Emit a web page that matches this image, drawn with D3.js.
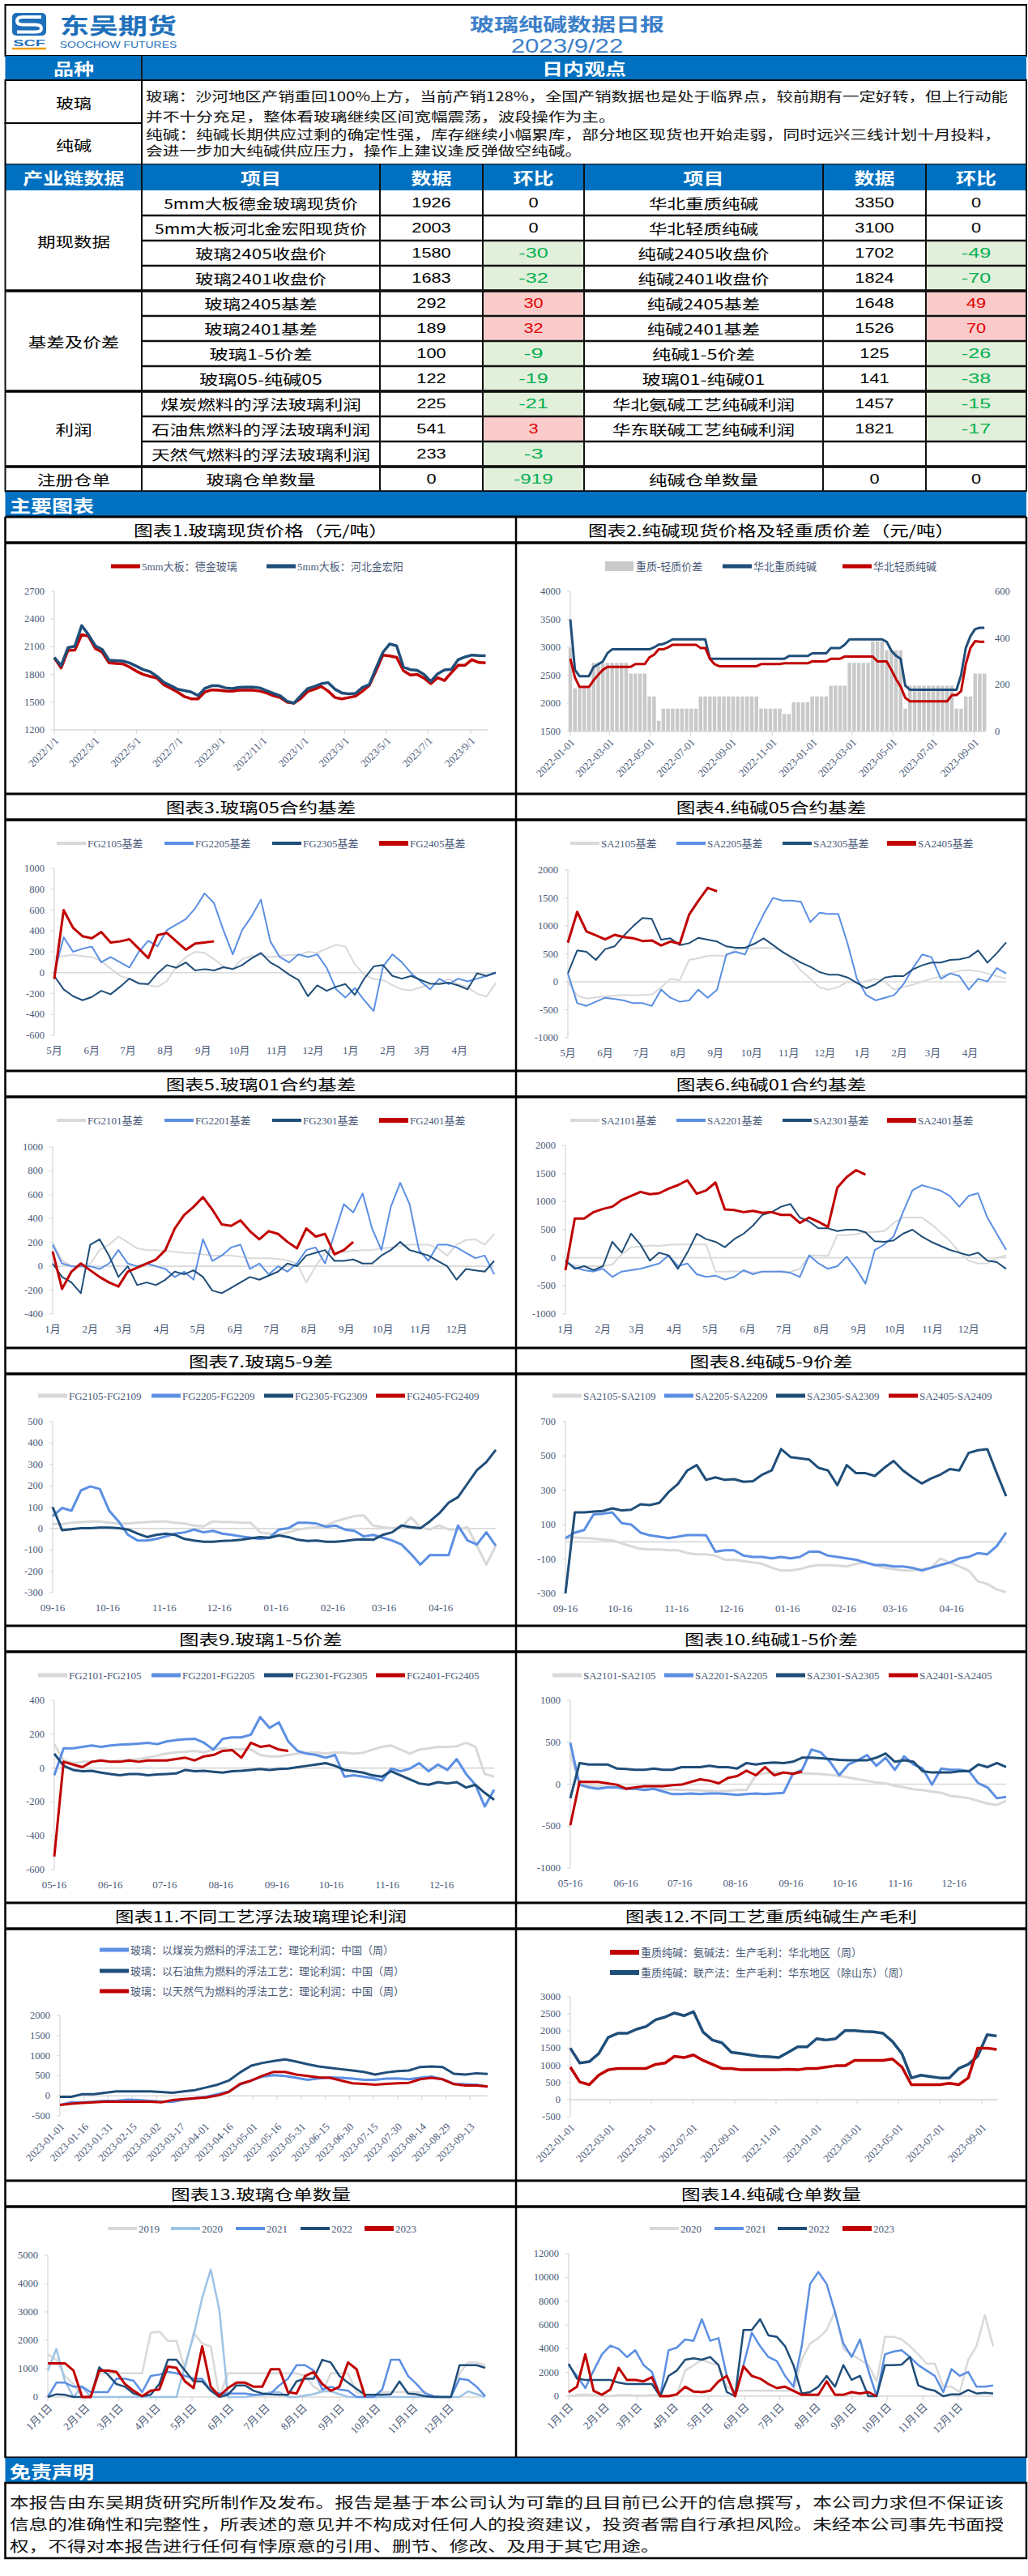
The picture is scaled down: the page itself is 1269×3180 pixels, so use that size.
<!DOCTYPE html>
<html><head><meta charset="utf-8">
<script src="https://cdn.jsdelivr.net/npm/d3@7"></script>
<style>body{margin:0;background:#fff}</style>
</head><body>
<svg id="page" width="1269" height="3180"></svg>
<script>
// ---------- table data ----------
const tblGroups = [["期现数据", 4], ["基差及价差", 4], ["利润", 3], ["注册仓单", 1]];
const tblHeader = ["产业链数据", "项目", "数据", "环比", "项目", "数据", "环比"];
const leftItems = ["5mm大板德金玻璃现货价", "5mm大板河北金宏阳现货价", "玻璃2405收盘价", "玻璃2401收盘价", "玻璃2405基差", "玻璃2401基差", "玻璃1-5价差", "玻璃05-纯碱05", "煤炭燃料的浮法玻璃利润", "石油焦燃料的浮法玻璃利润", "天然气燃料的浮法玻璃利润", "玻璃仓单数量"];
const leftVals = [1926, 2003, 1580, 1683, 292, 189, 100, 122, 225, 541, 233, 0];
const leftChg = [0, 0, -30, -32, 30, 32, -9, -19, -21, 3, -3, -919];
const rightItems = ["华北重质纯碱", "华北轻质纯碱", "纯碱2405收盘价", "纯碱2401收盘价", "纯碱2405基差", "纯碱2401基差", "纯碱1-5价差", "玻璃01-纯碱01", "华北氨碱工艺纯碱利润", "华东联碱工艺纯碱利润", "", "纯碱仓单数量"];
const rightVals = [3350, 3100, 1702, 1824, 1648, 1526, 125, 141, 1457, 1821, null, 0];
const rightChg = [0, 0, -49, -70, 49, 70, -26, -38, -15, -17, null, 0];

// ---------- chart data ----------
const c1Dejin = [1980,1870,2060,2063,2230,2215,2080,2042,1925,1920, 1915,1880,1835,1800,1779,1760,1690,1650,1610,1560, 1536,1536,1610,1633,1630,1622,1618,1630,1630,1630, 1620,1600,1570,1550,1500,1490,1540,1615,1640,1670, 1620,1550,1535,1550,1565,1618,1680,1840,2010,2000, 1985,1840,1794,1800,1760,1700,1764,1735,1820,1900, 1900,1960,1930,1926];
const c1Jinhong = [1984,1896,2090,2105,2330,2230,2110,2071,1954,1950, 1946,1925,1890,1852,1830,1780,1715,1680,1640,1625, 1610,1570,1650,1677,1677,1655,1647,1660,1662,1662, 1655,1625,1595,1570,1510,1490,1570,1645,1670,1700, 1712,1640,1600,1590,1595,1660,1690,1870,2040,2130, 2110,1880,1852,1845,1800,1725,1808,1850,1855,1960, 1990,2010,2005,2003];

const c2Heavy = [3500,2600,2486,2486,2486,2650,2700,2750,2900,2966, 2966,2966,2966,2966,2966,2966,2966,2966,3000,3050, 3062,3100,3144,3144,3144,3144,3144,3144,3144,3144, 2798,2798,2798,2798,2798,2798,2798,2798,2798,2798, 2798,2798,2798,2798,2798,2798,2798,2846,2846,2846, 2846,2846,2894,2894,2894,2894,2990,2990,2990,3050, 3144,3144,3144,3144,3144,3144,3144,3144,3100,2942, 2850,2798,2317,2245,2245,2245,2245,2245,2245,2245, 2245,2245,2245,2245,2510,2990,3200,3327,3350,3350];
const c2Light = [2798,2462,2293,2293,2293,2413,2510,2600,2654,2654, 2654,2654,2654,2654,2702,2702,2702,2822,2870,2966, 2966,3000,3048,3048,3048,3048,3048,3048,2990,2990, 2798,2700,2664,2664,2664,2664,2664,2664,2664,2664, 2664,2702,2702,2702,2702,2702,2716,2716,2716,2716, 2716,2716,2750,2750,2750,2750,2798,2798,2798,2837, 2837,2837,2837,2837,2837,2837,2750,2750,2750,2600, 2437,2300,2100,2038,2038,2038,2038,2038,2038,2038, 2038,2038,2149,2149,2221,2702,2990,3110,3100,3100];
const c2Spread = [358,185,185,185,185,294,294,294,294,294, 294,294,294,248,248,248,248,150,150,46, 98,98,98,98,98,98,98,98,150,150, 150,150,150,150,150,150,150,150,150,150, 150,98,98,98,98,98,75,75,125,125, 125,125,150,150,150,150,196,196,196,196, 294,294,294,294,294,386,386,386,348,348, 348,348,98,196,196,196,196,196,196,196, 196,196,196,98,98,150,150,248,248,248];

const c3FG2105 = [150,160,170,160,150,110,40,-30,-60,-90, -120,-135,-80,60,150,200,190,130,60,40, 130,160,170,150,160,170,170,200,190,230, 267,250,80,-20,-60,-70,-120,-160,-170,-140, -110,-100,-60,-110,-140,-200,-230,-100];
const c3FG2205 = [-5,340,200,230,250,100,150,100,50,200, 306,254,409,461,513,617,760,668,409,176, 409,539,700,300,150,98,176,150,176,47, -160,-238,-148,-264,-368,60,176,100,-5,-83, -160,-57,-109,-57,-83,-57,-31,-5];
const c3FG2305 = [-31,-160,-225,-264,-233,-174,-207,-135,-57,-104, -109,-5,73,47,98,21,34,21,52,34, 73,137,189,98,47,-18,-70,-225,-122,-174, -135,-109,-212,-57,60,73,-31,-57,-31,-70, -104,-109,-96,-122,-160,-5,-31,3];
const c3FG2405 = [-60,600,430,350,330,390,290,300,320,230, 140,360,380,300,220,280,290,300];

const c4SA2105 = [0,-250,-300,-280,-260,-250,-237,-240,-235,-230, -100,50,30,391,420,464,470,464,585,590, 600,609,600,560,400,200,53,-100,-140,-92, 0,-20,10,53,0,-140,-92,-50,5,53, 100,150,198,210,190,150,101,53];
const c4SA2205 = [150,-382,-430,-357,-285,-309,-333,-382,-382,-430, -140,-285,-357,-333,-140,-285,-140,488,536,488, 874,1212,1502,1454,1454,1430,1068,1237,1212,1212, 681,53,-237,-333,-285,-237,-43,246,488,440, 53,150,101,-140,53,5,246,150];
const c4SA2305 = [150,560,536,391,585,633,826,995,1140,1126, 754,778,657,690,787,754,720,633,609,609, 681,778,657,536,440,343,271,174,126,126, 77,-19,-116,-43,77,101,101,222,295,343, 343,391,401,440,560,343,512,705];
const c4SA2405 = [700,1250,900,830,760,840,800,780,730,740, 650,720,680,1200,1450,1680,1620];

const c5FG2101 = [204,50,0,0,20,136,181,249,200,150, 136,136,130,120,113,110,100,90,90,90, 80,68,68,68,60,50,23,-136,0,113, 113,120,130,136,136,150,158,170,181,181, 181,150,90,181,220,226,181,271];
const c5FG2201 = [181,23,0,0,0,-23,23,136,23,0, 23,0,-23,-90,-45,-113,226,45,90,158, 181,-23,23,-68,0,-45,23,136,158,23, 271,520,452,611,317,136,498,700,520,136, 45,181,181,158,113,68,90,-68];
const c5FG2301 = [23,-90,-136,-226,181,226,90,-90,0,-158, -136,-158,-113,-45,-68,-34,-90,-204,-226,-181, -136,-90,-113,-79,-45,23,0,90,113,136, 45,45,57,23,23,90,136,204,136,113, 90,45,0,-113,-23,-34,-45,45];
const c5FG2401 = [124,-190,-45,23,-34,-90,-136,-170,-45,-11, 23,57,136,317,430,498,580,475,351,339, 385,294,226,294,271,204,150,317,249,271, 100,136,204];

const c6SA2101 = [-101,-140,-149,-149,-149,-120,60,188,200,220, 210,230,236,236,236,236,-245,-245,-240,-245, -260,-250,-245,-240,-250,-200,43,43,30,404, 404,420,452,460,476,620,716,716,716,600, 452,300,100,-50,-101,-100,-5,43];
const c6SA2201 = [-53,-173,-221,-245,-197,-341,-245,-221,-197,-149, -101,43,-149,-101,-293,-341,-317,-389,-341,-221, -293,-245,-245,-245,-269,-341,43,-101,-197,-149, 19,-197,-461,139,236,380,812,1197,1293,1245, 1197,1101,909,1101,1149,716,428,139];
const c6SA2301 = [-53,-197,-149,-221,-149,284,91,428,236,-53, 91,43,-197,91,428,332,284,188,332,428, 572,764,812,909,957,716,644,524,524,476, 500,500,452,293,284,308,428,500,380,284, 212,139,91,43,91,-53,-77,-197];
const c6SA2401 = [-220,700,700,812,870,909,1029,1101,1173,1130, 1149,1230,1293,1380,1140,1197,1340,861,850,812, 836,800,812,764,764,620,716,640,548,1250, 1438,1560,1480];

const c7FG2105 = [20,20,27,30,33,33,27,23,23,27, 30,33,33,27,23,14,10,33,30,30, 27,27,-18,-24,-30,-18,-5,1,6,14, 33,46,58,61,14,6,1,6,52,6, -5,14,-5,-5,6,-81,-169,-81];
const c7FG2205 = [58,96,83,178,197,185,83,33,-30,-56, -56,-49,-37,-24,-18,-5,-18,-11,-24,-30, -37,-43,-49,-43,-5,1,27,27,23,8, 14,-5,-11,-37,-30,-43,-56,-75,-119,-169, -125,-125,-125,14,-56,-75,-18,-81];
const c7FG2305 = [100,-8,-3,1,1,4,4,1,-5,-24, -40,-30,-24,-30,-49,-56,-62,-62,-58,-56, -53,-46,-40,-43,-33,-40,-53,-58,-56,-62, -62,-58,-53,-51,-53,-30,-18,14,6,1, 33,71,121,147,210,273,311,368];
const c7FG2405 = [];

const c8SA2105 = [19,25,22,19,14,9,-9,-25,-41,-44, -44,-49,-49,-65,-72,-72,-80,-104,-104,-112, -120,-128,-151,-167,-167,-159,-143,-135,-135,-139, -143,-128,-120,-135,-151,-159,-167,-167,-159,-151, -96,-120,-143,-167,-230,-246,-277,-293];
const c8SA2205 = [22,54,69,160,164,172,109,101,54,38, 30,22,30,40,40,38,-57,-49,-49,-80, -88,-88,-96,-88,-96,-88,-57,-57,-80,-88, -96,-104,-120,-135,-135,-143,-143,-151,-167,-151, -135,-120,-96,-88,-65,-72,-25,54];
const c8SA2305 = [-300,172,172,176,180,195,183,187,219,214, 227,290,337,416,447,361,376,361,365,350, 353,392,416,540,494,487,479,431,416,330, 447,400,400,384,431,471,416,376,340,369, 392,424,416,518,534,540,400,266];
const c8SA2405 = [];

const c9FG2101 = [141,45,29,37,37,45,37,45,48,53, 61,74,85,93,96,101,93,109,117,109, 112,109,77,69,69,77,85,90,93,85, 93,90,85,90,109,125,133,109,85,109, 117,125,125,128,149,125,-35,-51];
const c9FG2201 = [-43,117,117,125,133,125,133,138,141,144, 149,141,157,165,170,173,149,109,173,181, 181,197,301,237,270,157,101,85,77,61, 77,-51,-43,-51,-59,-75,-3,-19,-3,29, -19,21,-11,53,-35,-99,-227,-128];
const c9FG2301 = [85,13,-11,-19,-16,-27,-35,-43,-35,-35, -43,-38,-35,-32,-11,-19,-16,-22,-27,-19, -16,-11,-6,-11,-6,-3,5,13,21,29, 13,-11,-19,-27,-43,-51,-19,-43,-67,-91, -99,-83,-91,-83,-115,-99,-147,-187];
const c9FG2401 = [-523,37,21,5,37,45,37,37,45,37, 45,45,45,53,61,45,69,77,101,106, 61,149,125,133,109,101];

const c10SA2101 = [365,0,-20,-30,-30,-35,-40,-45,-50,-55, -60,-65,-70,-71,-75,-80,-85,-80,-70,-71, 106,130,139,140,135,130,125,120,110,100, 80,58,40,20,10,-20,-39,-60,-71,-90, -103,-140,-152,-168,-200,-232,-248,-200];
const c10SA2201 = [494,-6,-39,-55,-39,-39,-55,-55,-71,-55, -87,-119,-119,-110,-119,-110,-110,-119,-129,-119, -110,-119,-110,-103,123,171,413,381,268,106, 235,284,348,219,316,171,332,235,187,-6, 187,171,171,155,10,-39,-168,-152];
const c10SA2301 = [-168,252,235,235,235,187,181,171,171,187, 171,171,203,203,203,219,203,203,187,252, 235,252,258,252,268,316,316,310,300,290, 284,284,284,316,365,268,284,268,155,139, 139,139,155,155,235,203,252,203];
const c10SA2401 = [-490,30,26,26,10,-6,-55,-39,-23,-23, -23,-13,-6,26,58,42,10,74,97,161, 106,203,106,139,123,150];

const c11Coal = [-230,-162,-162,-149,-128,-128,-95,-108,-128,-149, -149,-95,-61,-27,41,108,277,378,480,514, 493,446,399,432,459,446,426,399,399,426, 432,412,446,480,412,297,284,277,225];
const c11Coke = [-27,-27,41,41,74,108,108,108,108,95, 74,108,142,209,277,378,581,750,818,865, 905,851,784,730,696,662,628,595,527,581, 615,628,716,730,716,547,527,561,541];
const c11Gas = [-230,-196,-176,-162,-149,-149,-149,-149,-149,-162, -108,-81,-61,-41,7,95,297,378,500,595, 595,527,493,459,446,378,311,297,277,297, 311,324,412,446,412,291,257,257,233];

const c12East = [1500,1066,1106,1343,1817,1935,1935,2054,2133,2330, 2409,2528,2449,2567,1975,1738,1659,1382,1343,1303, 1264,1248,1224,1382,1540,1540,1777,1738,1777,2014, 2014,1991,1975,1935,1698,1343,632,711,671,632, 632,908,1027,1264,1896,1856];
const c12North = [948,513,434,711,869,908,908,908,908,1027, 1066,1264,1224,1303,1145,1027,908,908,869,869, 869,869,869,885,869,908,908,948,987,987, 1145,1145,1145,1145,1185,948,434,434,434,434, 474,434,632,1501,1501,1461];

const c13Y2019 = [1502,1312,741,456,0,0,836,836,836,836, 836,836,2262,2310,1977,1977,979,2262,1882,1787, 0,836,836,836,836,836,836,836,836,836, 741,361,171,836,836,836,171,76,76,171, 171,171,171,171,171,0,0,0,836,1217, 1217,1122];
const c13Y2020 = [931,1692,551,0,361,0,0,0,0,0, 0,0,0,0,0,0,1122,2167,3498,4496, 3070,0,0,0,50,100,171,171,0,0, 50,100,200,200,100,0,0,0,0,0, 0,0,0,0,0,0,0,0,0,200, 100,0];
const c13Y2021 = [0,504,504,361,361,171,171,171,646,646, 570,171,741,789,884,836,741,646,646,219, 124,124,124,124,76,76,124,409,646,1122, 1122,931,266,361,266,219,0,0,0,266, 1312,1312,741,456,124,29,0,0,646,599, 361,29];
const c13Y2022 = [0,95,76,0,0,0,1046,789,456,361, 124,29,76,456,1312,1312,931,551,551,219, 0,76,409,409,219,124,95,76,76,551, 646,646,1312,1217,741,504,285,76,76,76, 95,551,124,95,29,0,0,0,1122,1122, 1122,1027];
const c13Y2023 = [1188,1188,1188,931,0,0,931,931,884,456, 219,29,219,266,1074,1027,551,314,1787,361, 29,314,504,504,361,361,979,979,171,124, 741,884,456,219,361,1217,979,0];

const c14Y2020 = [0,100,150,100,50,0,100,100,50,50, 100,50,50,150,2159,2600,3068,2800,2614,795, 455,455,455,455,455,455,455,455,3068,4432, 4886,5568,7159,3977,3523,3068,2614,1250,5000,5000, 4773,4205,3523,2727,2727,795,795,341,3068,4205, 6818,4205];
const c14Y2021 = [2614,1705,682,2159,3523,4250,3977,3295,3864,2614, 2045,0,3864,4091,4773,4659,6477,4659,4886,1705, 0,2614,5341,4205,3295,2955,1705,795,4205,9432, 10455,9432,7045,4432,3295,4773,2159,0,3523,3750, 3864,3295,2614,2159,1705,341,2273,1705,2045,795, 795,909];
const c14Y2022 = [2727,1477,1364,1364,1364,1364,1136,1023,1023,1023, 1023,0,1705,2159,3068,3182,3068,3295,2614,341, 0,5568,5568,6477,5114,5000,4205,2614,227,341, 795,1705,795,2614,1364,1705,0,0,2614,2614, 2659,3295,909,614,455,0,159,159,523,227, 295,227];
const c14Y2023 = [341,795,3523,455,114,568,2386,1364,1364,1250, 1591,0,0,159,795,386,341,455,1250,1705, 0,2500,1705,1477,1023,682,795,455,114,114, 114,1250,114,114,341,227,341,0];

// tick values
const c1Ticks = [1200, 1500, 1800, 2100, 2400, 2700];
const c2Ticks = [1500, 2000, 2500, 3000, 3500, 4000];
const c2Ticks2 = [0, 200, 400, 600];
const c3Ticks = [-600, -400, -200, 0, 200, 400, 600, 800, 1000];
const c4Ticks = [-1000, -500, 0, 500, 1000, 1500, 2000];
const c5Ticks = [-400, -200, 0, 200, 400, 600, 800, 1000];
const c6Ticks = [-1000, -500, 0, 500, 1000, 1500, 2000];
const c7Ticks = [-300, -200, -100, 0, 100, 200, 300, 400, 500];
const c8Ticks = [-300, -100, 100, 300, 500, 700];
const c9Ticks = [-600, -400, -200, 0, 200, 400];
const c10Ticks = [-1000, -500, 0, 500, 1000];
const c11Ticks = [-500, 0, 500, 1000, 1500, 2000];
const c12Ticks = [-500, 0, 500, 1000, 1500, 2000, 2500, 3000];
const c13Ticks = [0, 1000, 2000, 3000, 4000, 5000];
const c14Ticks = [0, 2000, 4000, 6000, 8000, 10000, 12000];

const chartTitles = ["图表1.玻璃现货价格（元/吨）", "图表2.纯碱现货价格及轻重质价差（元/吨）", "图表3.玻璃05合约基差", "图表4.纯碱05合约基差", "图表5.玻璃01合约基差", "图表6.纯碱01合约基差", "图表7.玻璃5-9差", "图表8.纯碱5-9价差", "图表9.玻璃1-5价差", "图表10.纯碱1-5价差", "图表11.不同工艺浮法玻璃理论利润", "图表12.不同工艺重质纯碱生产毛利", "图表13.玻璃仓单数量", "图表14.纯碱仓单数量"];

// ---------- drawing ----------
const svg = d3.select("#page");
const BLUE = "#0070C0", RED = "#C00000", DARK = "#1F4E79", LIGHT = "#5B8FE3", GREY = "#D9D9D9", PALE = "#9DC3E6";
const AX = "#4A5A78", AXL = "#D9D9D9";
const CJK = "'Noto Sans CJK SC', 'Noto Sans', sans-serif";
const SERIF = "'Liberation Serif', 'Noto Sans CJK SC', serif";
const SANS = "'Liberation Sans', 'Noto Sans CJK SC', sans-serif";

function units(s) { let n = 0; for (const ch of s) n += ch.charCodeAt(0) > 255 ? 1 : 0.55; return n; }
function txt(g, x, y, s, o = {}) {
  const t = g.append("text").attr("x", x).attr("y", y).text(s)
    .attr("font-size", o.size || 17).attr("fill", o.fill || "#000")
    .attr("font-family", o.font || CJK).attr("text-anchor", o.anchor || "middle")
    .attr("dominant-baseline", "central");
  if (o.bold) t.attr("font-weight", "bold");
  if (o.cw) t.attr("textLength", (units(s) * o.cw).toFixed(1)).attr("lengthAdjust", "spacingAndGlyphs");
  return t;
}
function ln(g, x1, y1, x2, y2, c, w) {
  return g.append("line").attr("x1", x1).attr("y1", y1).attr("x2", x2).attr("y2", y2).attr("stroke", c).attr("stroke-width", w);
}
function box(g, x, y, w, h, fill, stroke, sw) {
  const r = g.append("rect").attr("x", x).attr("y", y).attr("width", w).attr("height", h).attr("fill", fill || "none");
  if (stroke) r.attr("stroke", stroke).attr("stroke-width", sw || 1);
  return r;
}

// header
box(svg, 6.5, 6, 1260.5, 63, "#fff", "#000", 2);
box(svg, 15, 16, 42, 28, "#1E6FBA").attr("rx", 5);
svg.append("path").attr("d", "M51 21 H28 Q21 21 21 26 Q21 30.5 28 30.5 H44 Q51 30.5 51 35 Q51 39.5 44 39.5 H21")
  .attr("fill", "none").attr("stroke", "#fff").attr("stroke-width", 4);
txt(svg, 146, 30, "东吴期货", { size: 27, bold: true, fill: "#1E6FBA", cw: 36 });
txt(svg, 36, 53, "SCF", { size: 11, bold: true, fill: "#1E6FBA", font: SANS, cw: 24 });
ln(svg, 15, 60, 57, 60, "#F39C12", 2.5);
txt(svg, 146, 55, "SOOCHOW FUTURES", { size: 11, fill: "#1E6FBA", font: SANS, cw: 17.5 });
txt(svg, 700, 28, "玻璃纯碱数据日报", { size: 22, bold: true, fill: "#3C7FC9", cw: 30 });
txt(svg, 700, 56, "2023/9/22", { size: 24, fill: "#3C7FC9", font: SANS, cw: 28 });

// view section
box(svg, 6.5, 69, 1260.5, 30, BLUE);
ln(svg, 175, 69, 175, 99, "#1a1a1a", 2);
txt(svg, 91, 84, "品种", { size: 20, bold: true, fill: "#fff", cw: 25 });
txt(svg, 721, 84, "日内观点", { size: 20, bold: true, fill: "#fff", cw: 26 });
box(svg, 6.5, 99, 168.5, 53, "#fff", "#000", 2);
box(svg, 6.5, 152, 168.5, 51, "#fff", "#000", 2);
box(svg, 175, 99, 1092, 104, "#fff", "#000", 2);
txt(svg, 91, 126, "玻璃", { cw: 22 });
txt(svg, 91, 178, "纯碱", { cw: 22 });
const opinion = [
  "玻璃：沙河地区产销重回100%上方，当前产销128%，全国产销数据也是处于临界点，较前期有一定好转，但上行动能",
  "并不十分充足，整体看玻璃继续区间宽幅震荡，波段操作为主。",
  "纯碱：纯碱长期供应过剩的确定性强，库存继续小幅累库，部分地区现货也开始走弱，同时远兴三线计划十月投料，",
  "会进一步加大纯碱供应压力，操作上建议逢反弹做空纯碱。"];
const opinionY = [118, 143, 165, 185];
opinion.forEach((s, i) => txt(svg, 180, opinionY[i], s, { size: 16, anchor: "start", cw: 20.7, fill: "#111" }));

// data table
const colX = [6.5, 175, 469, 596, 721, 1016, 1143, 1267];
const tTop = 203, hH = 32, rH = 31;
box(svg, 6.5, tTop, 1260.5, hH, BLUE);
tblHeader.forEach((h, i) => txt(svg, (colX[i] + colX[i + 1]) / 2, tTop + 16, h, { size: 20, bold: true, fill: "#fff", cw: 25 }));
const rowY = i => tTop + hH + i * rH;
function chgCell(x0, x1, i, v) {
  if (v === null) return;
  if (v < 0) box(svg, x0, rowY(i), x1 - x0, rH, "#E2EFDA");
  if (v > 0) box(svg, x0, rowY(i), x1 - x0, rH, "#F9CBCB");
  const col = v < 0 ? "#00B050" : v > 0 ? "#E00000" : "#000";
  txt(svg, (x0 + x1) / 2, rowY(i) + rH / 2, String(v), { font: SANS, fill: col, cw: 22 });
}
leftItems.forEach((s, i) => {
  const cy = rowY(i) + rH / 2;
  txt(svg, (colX[1] + colX[2]) / 2, cy, s, { cw: 22.5 });
  txt(svg, (colX[2] + colX[3]) / 2, cy, String(leftVals[i]), { font: SANS, cw: 22 });
  chgCell(colX[3], colX[4], i, leftChg[i]);
  if (rightItems[i]) txt(svg, (colX[4] + colX[5]) / 2, cy, rightItems[i], { cw: 22.5 });
  if (rightVals[i] !== null) txt(svg, (colX[5] + colX[6]) / 2, cy, String(rightVals[i]), { font: SANS, cw: 22 });
  chgCell(colX[6], colX[7], i, rightChg[i]);
});
let gi = 0;
tblGroups.forEach(([name, n]) => {
  txt(svg, 91, rowY(gi) + n * rH / 2, name, { cw: 22.5 });
  gi += n;
  ln(svg, 6.5, rowY(gi), 1267, rowY(gi), "#000", 3.5);
});
for (let i = 1; i < leftItems.length; i++) ln(svg, 175, rowY(i), 1267, rowY(i), "#111", 2.5);
colX.forEach(x => ln(svg, x, tTop, x, rowY(leftItems.length), "#111", 2));

// section bar
box(svg, 6.5, 607, 1260.5, 31, BLUE);
txt(svg, 12, 623, "主要图表", { size: 21, bold: true, fill: "#fff", anchor: "start", cw: 26 });

// panels
const rowTops = [638, 980, 1322, 1664, 2007, 2349, 2692];
rowTops.forEach((r, k) => {
  ln(svg, 6.5, r, 1267, r, "#000", 3);
  ln(svg, 6.5, r + 32, 1267, r + 32, "#000", 3.5);
  txt(svg, 322, r + 16, chartTitles[2 * k], { size: 18, cw: 23 });
  txt(svg, 952, r + 16, chartTitles[2 * k + 1], { size: 18, cw: 23 });
});
[6.5, 637, 1267].forEach(x => ln(svg, x, 638, x, 3034, "#000", 2.5));
ln(svg, 6.5, 3034, 1267, 3034, "#000", 3);

const D = (y, m, d) => new Date(y, m - 1, d);
const monthly16 = (a, b) => d3.timeMonth.range(d3.timeMonth.floor(a), d3.timeMonth.offset(b, -1)).map(d => d3.timeDay.offset(d, 15));

function chart(o) {
  const g = svg.append("g");
  const x = d3.scaleTime().domain([o.t0, o.t1]).range([o.x0, o.x1]);
  const y = d3.scaleLinear().domain(o.ydom).range([o.yb, o.yt]);
  const at = i => x(new Date(+o.t0 + i * o.step * 864e5));
  ln(g, o.x0, o.yt, o.x0, o.yb, AXL, 1.3);
  o.yticks.forEach(v => {
    ln(g, o.x0 - 4, y(v), o.x0, y(v), AXL, 1.2);
    txt(g, o.x0 - 12, y(v), String(v), { size: 12.5, font: SERIF, fill: AX, anchor: "end" });
  });
  if (o.bars) {
    const y2 = d3.scaleLinear().domain(o.bars.dom).range([o.yb, o.yt]);
    const bw = (at(1) - at(0)) * 0.78;
    g.selectAll(null).data(o.bars.v).join("rect")
      .attr("x", (d, i) => at(i) - bw / 2).attr("width", bw)
      .attr("y", d => y2(d)).attr("height", d => y2(0) - y2(d)).attr("fill", "#C9C9C9");
    o.bars.ticks.forEach(v => txt(g, o.x1 + 12, y2(v), String(v), { size: 12.5, font: SERIF, fill: AX, anchor: "start" }));
  }
  const ay = y(o.axisAt);
  ln(g, o.x0, ay, o.x1, ay, AXL, 1.6);
  const fmt = d3.timeFormat(o.fmt);
  o.xticks.forEach(d => {
    const px = x(d);
    if (o.rot) {
      ln(g, px, ay, px, ay + 5, AXL, 1.2);
      g.append("text").attr("transform", `translate(${px + 3},${o.yb + 11}) rotate(-45)`)
        .attr("text-anchor", "end").attr("dominant-baseline", "central")
        .attr("font-size", 13).attr("font-family", SERIF).attr("fill", AX).text(fmt(d));
    } else {
      txt(g, px, o.yb + 18, fmt(d), { size: 13, font: SERIF, fill: AX });
    }
  });
  const path = d3.line().x((d, i) => at(i)).y(d => y(d));
  o.series.forEach(s => {
    if (!s.v.length) return;
    g.append("path").datum(s.v).attr("d", path).attr("fill", "none")
      .attr("stroke", s.c).attr("stroke-width", s.w).attr("stroke-linejoin", "round");
  });
  o.legend.forEach(l => {
    if (l.rect) box(g, l.x, l.y - 6, 35, 12, "#C9C9C9");
    else ln(g, l.x, l.y, l.x + 36, l.y, l.c, l.lw);
    txt(g, l.x + 38, l.y, l.t, { size: 13, font: SERIF, fill: AX, anchor: "start" });
  });
}

const PAL4 = [GREY, LIGHT, DARK, RED];
function four(vals, names, xs, ly, widths, lws) {
  return {
    series: vals.map((v, i) => ({ v, c: PAL4[i], w: widths[i] })),
    legend: names.map((t, i) => ({ x: xs[i], y: ly, c: PAL4[i], lw: lws[i], t }))
  };
}
const BW = [2, 2, 2, 3], BL = [4, 4, 4, 6];
const SW = [3, 3, 3, 3], SL = [5, 5, 5, 5];
const L3 = [70, 203, 336, 468], L3R = [704, 835, 966, 1095];
const L7 = [47, 187, 326, 464], L7R = [682, 820, 958, 1097];
const yearSpan = 365 / 47;

chart({ x0: 67, x1: 602, yt: 730, yb: 901, ydom: [1200, 2700], yticks: c1Ticks, t0: D(2022,1,1), t1: D(2023,9,26), step: 10, axisAt: 1200,
  xticks: d3.timeMonth.every(2).range(D(2022,1,1), D(2023,9,26)), fmt: "%Y/%-m/%-d", rot: true,
  series: [{ v: c1Dejin, c: RED, w: 3.5 }, { v: c1Jinhong, c: DARK, w: 3.5 }],
  legend: [{ x: 137, y: 699, c: RED, lw: 5, t: "5mm大板：德金玻璃" }, { x: 329, y: 699, c: DARK, lw: 5, t: "5mm大板：河北金宏阳" }] });

chart({ x0: 704, x1: 1216, yt: 730, yb: 903, ydom: [1500, 4000], yticks: c2Ticks, t0: D(2022,1,1), t1: D(2023,9,17), step: 7, axisAt: 1500,
  xticks: d3.timeMonth.every(2).range(D(2022,1,1), D(2023,9,17)), fmt: "%Y-%m-%d", rot: true,
  bars: { v: c2Spread, dom: [0, 600], ticks: c2Ticks2 },
  series: [{ v: c2Heavy, c: DARK, w: 3 }, { v: c2Light, c: RED, w: 3 }],
  legend: [{ x: 747, y: 699, rect: true, t: "重质-轻质价差" }, { x: 892, y: 699, c: DARK, lw: 5, t: "华北重质纯碱" }, { x: 1040, y: 699, c: RED, lw: 5, t: "华北轻质纯碱" }] });

chart(Object.assign({ x0: 67, x1: 612, yt: 1072, yb: 1278, ydom: [-600, 1000], yticks: c3Ticks, t0: D(2022,5,1), t1: D(2023,5,1), step: yearSpan, axisAt: 0,
  xticks: d3.timeMonth.range(D(2022,5,1), D(2023,5,1)), fmt: "%-m月" },
  four([c3FG2105, c3FG2205, c3FG2305, c3FG2405], ["FG2105基差", "FG2205基差", "FG2305基差", "FG2405基差"], L3, 1041, BW, BL)));

chart(Object.assign({ x0: 701, x1: 1242, yt: 1074, yb: 1281, ydom: [-1000, 2000], yticks: c4Ticks, t0: D(2022,5,1), t1: D(2023,5,1), step: yearSpan, axisAt: 0,
  xticks: d3.timeMonth.range(D(2022,5,1), D(2023,5,1)), fmt: "%-m月" },
  four([c4SA2105, c4SA2205, c4SA2305, c4SA2405], ["SA2105基差", "SA2205基差", "SA2305基差", "SA2405基差"], L3R, 1041, BW, BL)));

chart(Object.assign({ x0: 65, x1: 610, yt: 1416, yb: 1622, ydom: [-400, 1000], yticks: c5Ticks, t0: D(2022,1,1), t1: D(2023,1,1), step: yearSpan, axisAt: 0,
  xticks: d3.timeMonth.range(D(2022,1,1), D(2023,1,1)), fmt: "%-m月" },
  four([c5FG2101, c5FG2201, c5FG2301, c5FG2401], ["FG2101基差", "FG2201基差", "FG2301基差", "FG2401基差"], L3, 1383, BW, BL)));

chart(Object.assign({ x0: 698, x1: 1242, yt: 1414, yb: 1622, ydom: [-1000, 2000], yticks: c6Ticks, t0: D(2022,1,1), t1: D(2023,1,1), step: yearSpan, axisAt: 0,
  xticks: d3.timeMonth.range(D(2022,1,1), D(2023,1,1)), fmt: "%-m月" },
  four([c6SA2101, c6SA2201, c6SA2301, c6SA2401], ["SA2101基差", "SA2201基差", "SA2301基差", "SA2401基差"], L3R, 1383, BW, BL)));

chart(Object.assign({ x0: 65, x1: 612, yt: 1755, yb: 1966, ydom: [-300, 500], yticks: c7Ticks, t0: D(2022,9,16), t1: D(2023,5,16), step: 242 / 47, axisAt: 0,
  xticks: monthly16(D(2022,9,16), D(2023,5,16)), fmt: "%m-%d" },
  four([c7FG2105, c7FG2205, c7FG2305, c7FG2405], ["FG2105-FG2109", "FG2205-FG2209", "FG2305-FG2309", "FG2405-FG2409"], L7, 1723, SW, SL)));

chart(Object.assign({ x0: 698, x1: 1242, yt: 1755, yb: 1967, ydom: [-300, 700], yticks: c8Ticks, t0: D(2022,9,16), t1: D(2023,5,16), step: 242 / 47, axisAt: 0,
  xticks: monthly16(D(2022,9,16), D(2023,5,16)), fmt: "%m-%d" },
  four([c8SA2105, c8SA2205, c8SA2305, c8SA2405], ["SA2105-SA2109", "SA2205-SA2209", "SA2305-SA2309", "SA2405-SA2409"], L7R, 1723, SW, SL)));

chart(Object.assign({ x0: 67, x1: 610, yt: 2099, yb: 2308, ydom: [-600, 400], yticks: c9Ticks, t0: D(2022,5,16), t1: D(2023,1,14), step: 243 / 47, axisAt: 0,
  xticks: monthly16(D(2022,5,16), D(2023,1,14)), fmt: "%m-%d" },
  four([c9FG2101, c9FG2201, c9FG2301, c9FG2401], ["FG2101-FG2105", "FG2201-FG2205", "FG2301-FG2305", "FG2401-FG2405"], L7, 2068, SW, SL)));

chart(Object.assign({ x0: 704, x1: 1242, yt: 2099, yb: 2306, ydom: [-1000, 1000], yticks: c10Ticks, t0: D(2022,5,16), t1: D(2023,1,14), step: 243 / 47, axisAt: 0,
  xticks: monthly16(D(2022,5,16), D(2023,1,14)), fmt: "%m-%d" },
  four([c10SA2101, c10SA2201, c10SA2301, c10SA2401], ["SA2101-SA2105", "SA2201-SA2205", "SA2301-SA2305", "SA2401-SA2405"], L7R, 2068, SW, SL)));

chart({ x0: 74, x1: 602, yt: 2488, yb: 2612, ydom: [-500, 2000], yticks: c11Ticks, t0: D(2023,1,1), t1: D(2023,9,24), step: 7, axisAt: 0,
  xticks: d3.timeDay.range(D(2023,1,1), D(2023,9,20), 15), fmt: "%Y-%m-%d", rot: true,
  series: [{ v: c11Coal, c: LIGHT, w: 3 }, { v: c11Coke, c: DARK, w: 3 }, { v: c11Gas, c: RED, w: 3 }],
  legend: [{ x: 123, y: 2407, c: LIGHT, lw: 5, t: "玻璃：以煤炭为燃料的浮法工艺：理论利润：中国（周）" },
           { x: 123, y: 2433, c: DARK, lw: 5, t: "玻璃：以石油焦为燃料的浮法工艺：理论利润：中国（周）" },
           { x: 123, y: 2458, c: RED, lw: 5, t: "玻璃：以天然气为燃料的浮法工艺：理论利润：中国（周）" }] });

chart({ x0: 704, x1: 1232, yt: 2465, yb: 2613, ydom: [-500, 3000], yticks: c12Ticks, t0: D(2022,1,1), t1: D(2023,9,25), step: 14, axisAt: 0,
  xticks: d3.timeMonth.every(2).range(D(2022,1,1), D(2023,9,25)), fmt: "%Y-%m-%d", rot: true,
  series: [{ v: c12East, c: DARK, w: 3.5 }, { v: c12North, c: RED, w: 3.5 }],
  legend: [{ x: 753, y: 2410, c: RED, lw: 6, t: "重质纯碱：氨碱法：生产毛利：华北地区（周）" },
           { x: 753, y: 2435, c: DARK, lw: 6, t: "重质纯碱：联产法：生产毛利：华东地区（除山东）（周）" }] });

chart({ x0: 59, x1: 599, yt: 2784, yb: 2959, ydom: [0, 5000], yticks: c13Ticks, t0: D(2023,1,1), t1: D(2023,12,31), step: 364 / 51, axisAt: 0,
  xticks: d3.timeMonth.range(D(2023,1,1), D(2023,12,31)), fmt: "%-m月%-d日", rot: true,
  series: [{ v: c13Y2019, c: GREY, w: 2.5 }, { v: c13Y2020, c: PALE, w: 2.5 }, { v: c13Y2021, c: LIGHT, w: 2.5 }, { v: c13Y2022, c: DARK, w: 2.5 }, { v: c13Y2023, c: RED, w: 3 }],
  legend: [{ x: 133, y: 2751, c: GREY, lw: 4, t: "2019" }, { x: 211, y: 2751, c: PALE, lw: 4, t: "2020" }, { x: 291, y: 2751, c: LIGHT, lw: 4, t: "2021" },
           { x: 371, y: 2751, c: DARK, lw: 4, t: "2022" }, { x: 450, y: 2751, c: RED, lw: 6, t: "2023" }] });

chart({ x0: 702, x1: 1226, yt: 2782, yb: 2958, ydom: [0, 12000], yticks: c14Ticks, t0: D(2023,1,1), t1: D(2023,12,31), step: 364 / 51, axisAt: 0,
  xticks: d3.timeMonth.range(D(2023,1,1), D(2023,12,31)), fmt: "%-m月%-d日", rot: true,
  series: [{ v: c14Y2020, c: GREY, w: 2.5 }, { v: c14Y2021, c: LIGHT, w: 2.5 }, { v: c14Y2022, c: DARK, w: 2.5 }, { v: c14Y2023, c: RED, w: 3 }],
  legend: [{ x: 802, y: 2751, c: GREY, lw: 4, t: "2020" }, { x: 882, y: 2751, c: LIGHT, lw: 4, t: "2021" },
           { x: 960, y: 2751, c: DARK, lw: 4, t: "2022" }, { x: 1040, y: 2751, c: RED, lw: 6, t: "2023" }] });

// disclaimer
box(svg, 6.5, 3034, 1260.5, 31, BLUE);
txt(svg, 12, 3050, "免责声明", { size: 21, bold: true, fill: "#fff", anchor: "start", cw: 26 });
box(svg, 6.5, 3065, 1260.5, 93, "#fff", "#000", 2.5);
const disclaimer = [
  "本报告由东吴期货研究所制作及发布。报告是基于本公司认为可靠的且目前已公开的信息撰写，本公司力求但不保证该",
  "信息的准确性和完整性，所表述的意见并不构成对任何人的投资建议，投资者需自行承担风险。未经本公司事先书面授",
  "权，不得对本报告进行任何有悖原意的引用、删节、修改、及用于其它用途。"];
disclaimer.forEach((s, i) => txt(svg, 12, 3088 + i * 27, s, { size: 18, anchor: "start", cw: 23.6, fill: "#111" }));
</script>
</body></html>
